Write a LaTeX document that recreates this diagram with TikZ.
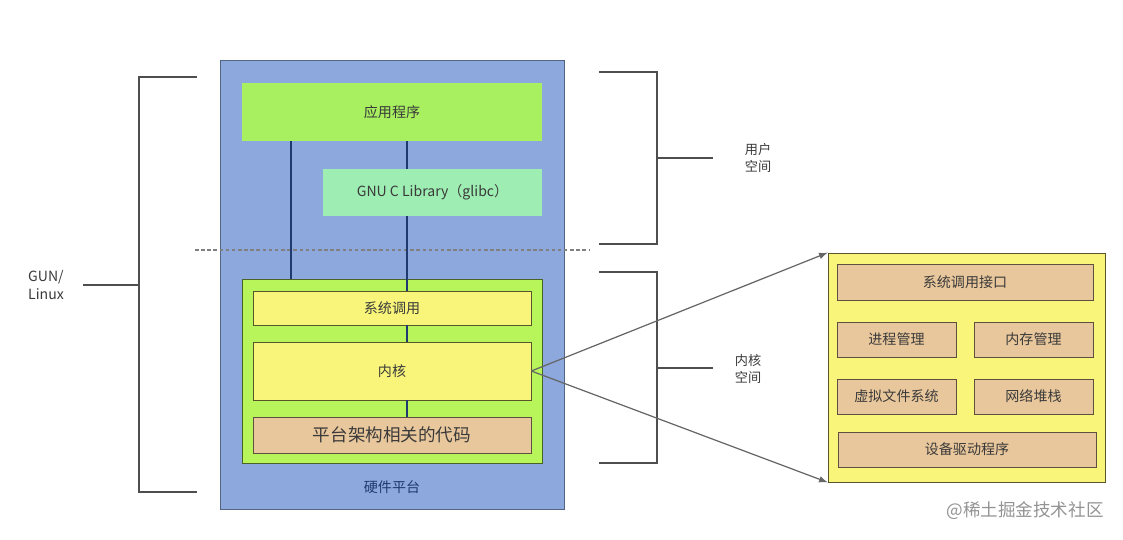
\documentclass[tikz,border=0pt]{standalone}
\usepackage{fontspec}
\setmainfont{Noto Sans CJK SC}
\usepackage{tikz}
\usetikzlibrary{arrows, calc}
\tikzset{>=latex}
\definecolor{hwblue}{HTML}{8CA8DC}
\definecolor{appgreen}{HTML}{A8F060}
\definecolor{libgreen}{HTML}{9EEDB2}
\definecolor{kgreen}{HTML}{B8F55A}
\definecolor{kyellow}{HTML}{F8F57A}
\definecolor{tan}{HTML}{E9C79C}
\definecolor{navy}{HTML}{1F3A6E}
\definecolor{txt}{HTML}{3A3A3A}
\tikzset{
  box/.style={rectangle, inner sep=0pt, text=txt, font=\fontsize{8}{10}\selectfont},
  link/.style={draw=navy, line width=1.1pt},
  brace/.style={draw=txt!90, line width=1.3pt},
  side/.style={text=txt, align=left, font=\fontsize{7.5}{10}\selectfont}
}

\begin{document}
\begin{tikzpicture}[x=0.02cm, y=-0.02cm]
\useasboundingbox (0,0) rectangle (1123,539);
% hardware platform and user space
\node[box, fill=hwblue, draw=hwblue!60!black, minimum width=6.88cm, minimum height=8.98cm] (hw) at (392,284.5) {};
\node[box, text=navy] (hwlabel) at (392,487) {硬件平台};
\node[box, fill=appgreen, minimum width=6cm, minimum height=1.16cm] (app) at (392,112) {应用程序};
\node[box, fill=kgreen, draw=kgreen!40!black, minimum width=6cm, minimum height=3.68cm] (kout) at (392,371) {};
\coordinate (dl) at (195,250);
\coordinate (dr) at (590,250);
\draw[gray, dash pattern=on 2pt off 1.5pt, line width=0.8pt] (dl) -- (dr);
\draw[link] (app.south -| 291,0) -- (kout.north -| 291,0);
\draw[link] (app.south -| 407,0) -- (kout.north -| 407,0) -- (407,291);
\node[box, fill=libgreen, minimum width=4.38cm, minimum height=0.94cm] (glibc) at (432.5,192.5) {GNU C Library（glibc）};
% kernel parts
\node[box, fill=kyellow, draw=kyellow!35!black, minimum width=5.56cm, minimum height=0.68cm] (syscall) at (392,308) {系统调用};
\node[box, fill=kyellow, draw=kyellow!35!black, minimum width=5.56cm, minimum height=1.16cm] (kernel) at (392,371) {内核};
\node[box, fill=tan, draw=tan!40!black, minimum width=5.56cm, minimum height=0.72cm, font=\fontsize{10}{12}\selectfont] (arch) at (392,435) {平台架构相关的代码};
\draw[link] (syscall.south -| 407,0) -- (kernel.north -| 407,0);
\draw[link] (kernel.south -| 407,0) -- (arch.north -| 407,0);

% brackets
\draw[brace] (197,77) -- (139,77) -- (139,492) -- (197,492);
\node[side, font=\fontsize{8}{10}\selectfont] (gnu) at (46,285) {GUN/\\Linux};
\draw[brace] (83,285) -- (139,285);
\draw[brace] (599,72) -- (657,72) -- (657,244) -- (599,244);
\draw[brace] (657,158) -- (713,158);
\node[side] (user) at (758,158) {用户\\空间};
\draw[brace] (599,272) -- (657,272) -- (657,463) -- (599,463);
\draw[brace] (657,368) -- (713,368);
\node[side] (kspace) at (748,369) {内核\\空间};

% kernel detail
\node[box, fill=kyellow, draw=kyellow!35!black, minimum width=5.54cm, minimum height=4.58cm] (detail) at (966.5,367.5) {};
\node[box, fill=tan, draw=tan!40!black, minimum width=5.12cm, minimum height=0.72cm] (sci) at (965,282) {系统调用接口};
\node[box, fill=tan, draw=tan!40!black, minimum width=2.38cm, minimum height=0.7cm] (proc) at (896.5,339.5) {进程管理};
\node[box, fill=tan, draw=tan!40!black, minimum width=2.38cm, minimum height=0.7cm] (mem) at (1033.5,339.5) {内存管理};
\node[box, fill=tan, draw=tan!40!black, minimum width=2.38cm, minimum height=0.7cm] (vfs) at (896.5,396.5) {虚拟文件系统};
\node[box, fill=tan, draw=tan!40!black, minimum width=2.38cm, minimum height=0.7cm] (net) at (1033.5,396.5) {网络堆栈};
\node[box, fill=tan, draw=tan!40!black, minimum width=5.16cm, minimum height=0.7cm] (drv) at (967,449.5) {设备驱动程序};
\draw[->, gray!80!black, line width=0.7pt] (kernel.east) -- (detail.north west);
\draw[->, gray!80!black, line width=0.7pt] (kernel.east) -- (detail.south west);

\node[text=gray!85, font=\fontsize{10}{12}\selectfont] (mark) at (1025,511) {@稀土掘金技术社区};
\end{tikzpicture}
\end{document}
